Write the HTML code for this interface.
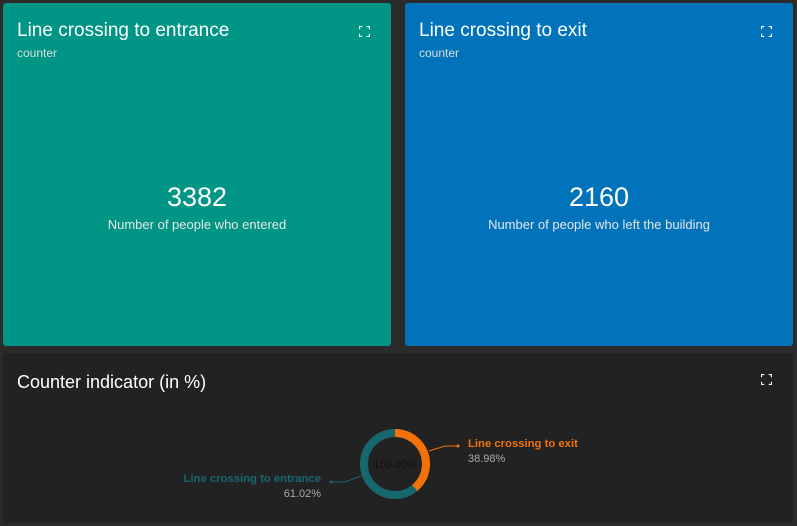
<!DOCTYPE html>
<html><head><style>
body{margin:0;width:797px;height:526px;background:#2b2b2b;font-family:"Liberation Sans",Arial,sans-serif;position:relative;overflow:hidden}
.p{position:absolute;border-radius:3px}
.t{position:absolute;left:14px;top:17px;font-size:19px;color:#fff}
.s{position:absolute;left:14px;top:43px;font-size:12px;color:#ddd}
.ic{position:absolute;width:11px;height:11px;top:23px}
.big{position:absolute;width:100%;text-align:center;top:179px;font-size:27px;color:#fff}
.lab{position:absolute;width:100%;text-align:center;top:214px;font-size:13px;color:#e6e6e6}
</style></head><body>
<div class="p" style="left:3px;top:3px;width:388px;height:343px;background:#009584">
<div class="t">Line crossing to entrance</div><div class="s">counter</div>
<svg class="ic" style="left:356px" viewBox="0 0 10 10"><path d="M0 3V0H3M7 0H10V3M10 7V10H7M3 10H0V7" stroke="#fff" stroke-width="2" fill="none"/></svg>
<div class="big">3382</div><div class="lab">Number of people who entered</div></div>
<div class="p" style="left:405px;top:3px;width:388px;height:343px;background:#0073bb">
<div class="t">Line crossing to exit</div><div class="s">counter</div>
<svg class="ic" style="left:356px" viewBox="0 0 10 10"><path d="M0 3V0H3M7 0H10V3M10 7V10H7M3 10H0V7" stroke="#fff" stroke-width="2" fill="none"/></svg>
<div class="big">2160</div><div class="lab">Number of people who left the building</div></div>
<div class="p" style="left:3px;top:353px;width:790px;height:170px;background:#222">
<div class="t" style="top:19px;font-size:18px">Counter indicator (in %)</div>
<svg class="ic" style="left:758px;top:21px" viewBox="0 0 10 10"><path d="M0 3V0H3M7 0H10V3M10 7V10H7M3 10H0V7" stroke="#fff" stroke-width="2" fill="none"/></svg>
</div>
<svg style="position:absolute;left:0;top:0" width="797" height="526">
<circle cx="395" cy="464" r="31" fill="none" stroke="#16686f" stroke-width="8"/>
<circle cx="395" cy="464" r="31" fill="none" stroke="#f27209" stroke-width="8" stroke-dasharray="75.9 200" transform="rotate(-90 395 464)"/>
<text x="395" y="468" font-size="11" text-anchor="middle" fill="#111" font-family="Liberation Sans">100.00%</text>
<polyline points="429,451 445,446 458,446" stroke="#f27209" fill="none"/><circle cx="458" cy="446" r="1.5" fill="#f27209"/>
<polyline points="361,476 345,482 331,482" stroke="#16686f" fill="none"/><circle cx="331" cy="482" r="1.5" fill="#16686f"/>
<text x="468" y="447" font-size="11.3" font-weight="bold" fill="#f27209" font-family="Liberation Sans">Line crossing to exit</text>
<text x="468" y="462" font-size="11" fill="#aaa" font-family="Liberation Sans">38.98%</text>
<text x="321" y="482" font-size="11.3" font-weight="bold" text-anchor="end" fill="#16686f" font-family="Liberation Sans">Line crossing to entrance</text>
<text x="321" y="497" font-size="11" text-anchor="end" fill="#aaa" font-family="Liberation Sans">61.02%</text>
</svg>
</body></html>
